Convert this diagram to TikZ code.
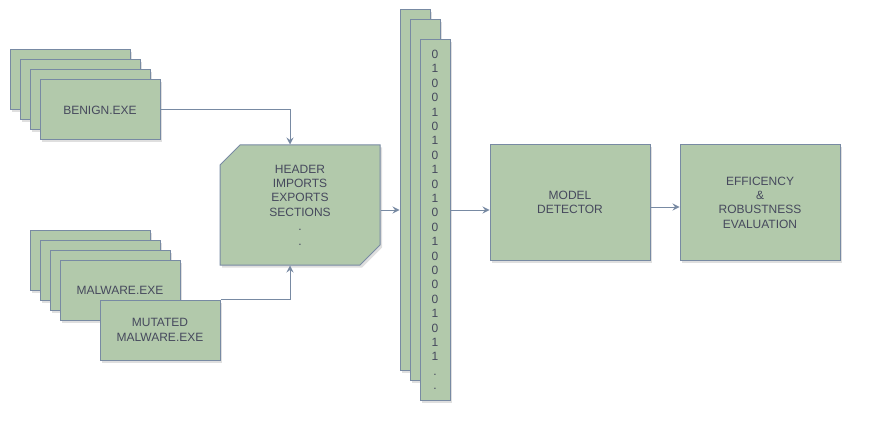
\documentclass[tikz,border=0pt]{standalone}
\usepackage{fontspec}
\setmainfont{Liberation Sans}
\usetikzlibrary{shapes.misc,shadows,arrows.meta}
\definecolor{boxfill}{HTML}{B2C9AB}
\definecolor{boxline}{HTML}{788AA3}
\definecolor{boxtext}{HTML}{46495D}

\begin{document}
\begin{tikzpicture}[x=1pt,y=-1pt,
	box/.style={draw=boxline,fill=boxfill,text=boxtext,line width=1pt,minimum width=120pt,minimum height=60pt,align=center,inner sep=0pt,font=\fontsize{12}{14.4}\selectfont,drop shadow={shadow xshift=2pt,shadow yshift=-2.5pt,opacity=0.25}},
	bits/.style={box,minimum width=30pt,minimum height=360pt},
	big/.style={box,minimum width=160pt,minimum height=115pt},
	link/.style={draw=boxline,line width=1pt,-{Stealth[length=7pt,width=7pt,inset=2.5pt]}}]
		\useasboundingbox (0,0) rectangle (882,422);
		\node[box] (benignA) at (70,80) {};
		\node[box] (benignB) at (80,90) {};
		\node[box] (benignC) at (90,100) {};
		\node[box] (benign) at (100,110) {BENIGN.EXE};
		\node[box] (malwareA) at (90,260) {};
		\node[box] (malwareB) at (100,270) {};
		\node[box] (malwareC) at (110,280) {};
		\node[box] (malware) at (120,290) {MALWARE.EXE};
		\node[box] (mutated) at (160,330) {MUTATED\\MALWARE.EXE};
		\node[big,chamfered rectangle,chamfered rectangle corners={north west,south east},chamfered rectangle sep=10pt,minimum height=120pt] (header) at (300,205) {HEADER\\IMPORTS\\EXPORTS\\SECTIONS\\.\\.};
		\node[bits] (colA) at (415,190) {};
		\node[bits] (colB) at (425,200) {};
		\node[bits] (bits) at (435,220) {0\\1\\0\\0\\1\\0\\1\\0\\1\\0\\1\\0\\0\\1\\0\\0\\0\\0\\1\\0\\1\\1\\.\\.};
		\node[big] (model) at (570,202.5) {MODEL\\DETECTOR};
		\node[big] (eval) at (760,202.5) {EFFICENCY\\\&\\ROBUSTNESS\\EVALUATION};
		\draw[link] (benign.east) -| ([xshift=-10pt]header.north);
		\draw[link] (mutated.north east) -| ([xshift=-10pt]header.south);
		\draw[link] ([yshift=-5pt]header.east) -- ([yshift=-5pt]header.east -| colA.west);
		\draw[link] ([yshift=-7.5pt]model.west -| bits.east) -- ([yshift=-7.5pt]model.west);
		\draw[link] ([yshift=-4.5pt]model.east) -- ([yshift=-4.5pt]model.east -| eval.west);
\end{tikzpicture}
\end{document}
